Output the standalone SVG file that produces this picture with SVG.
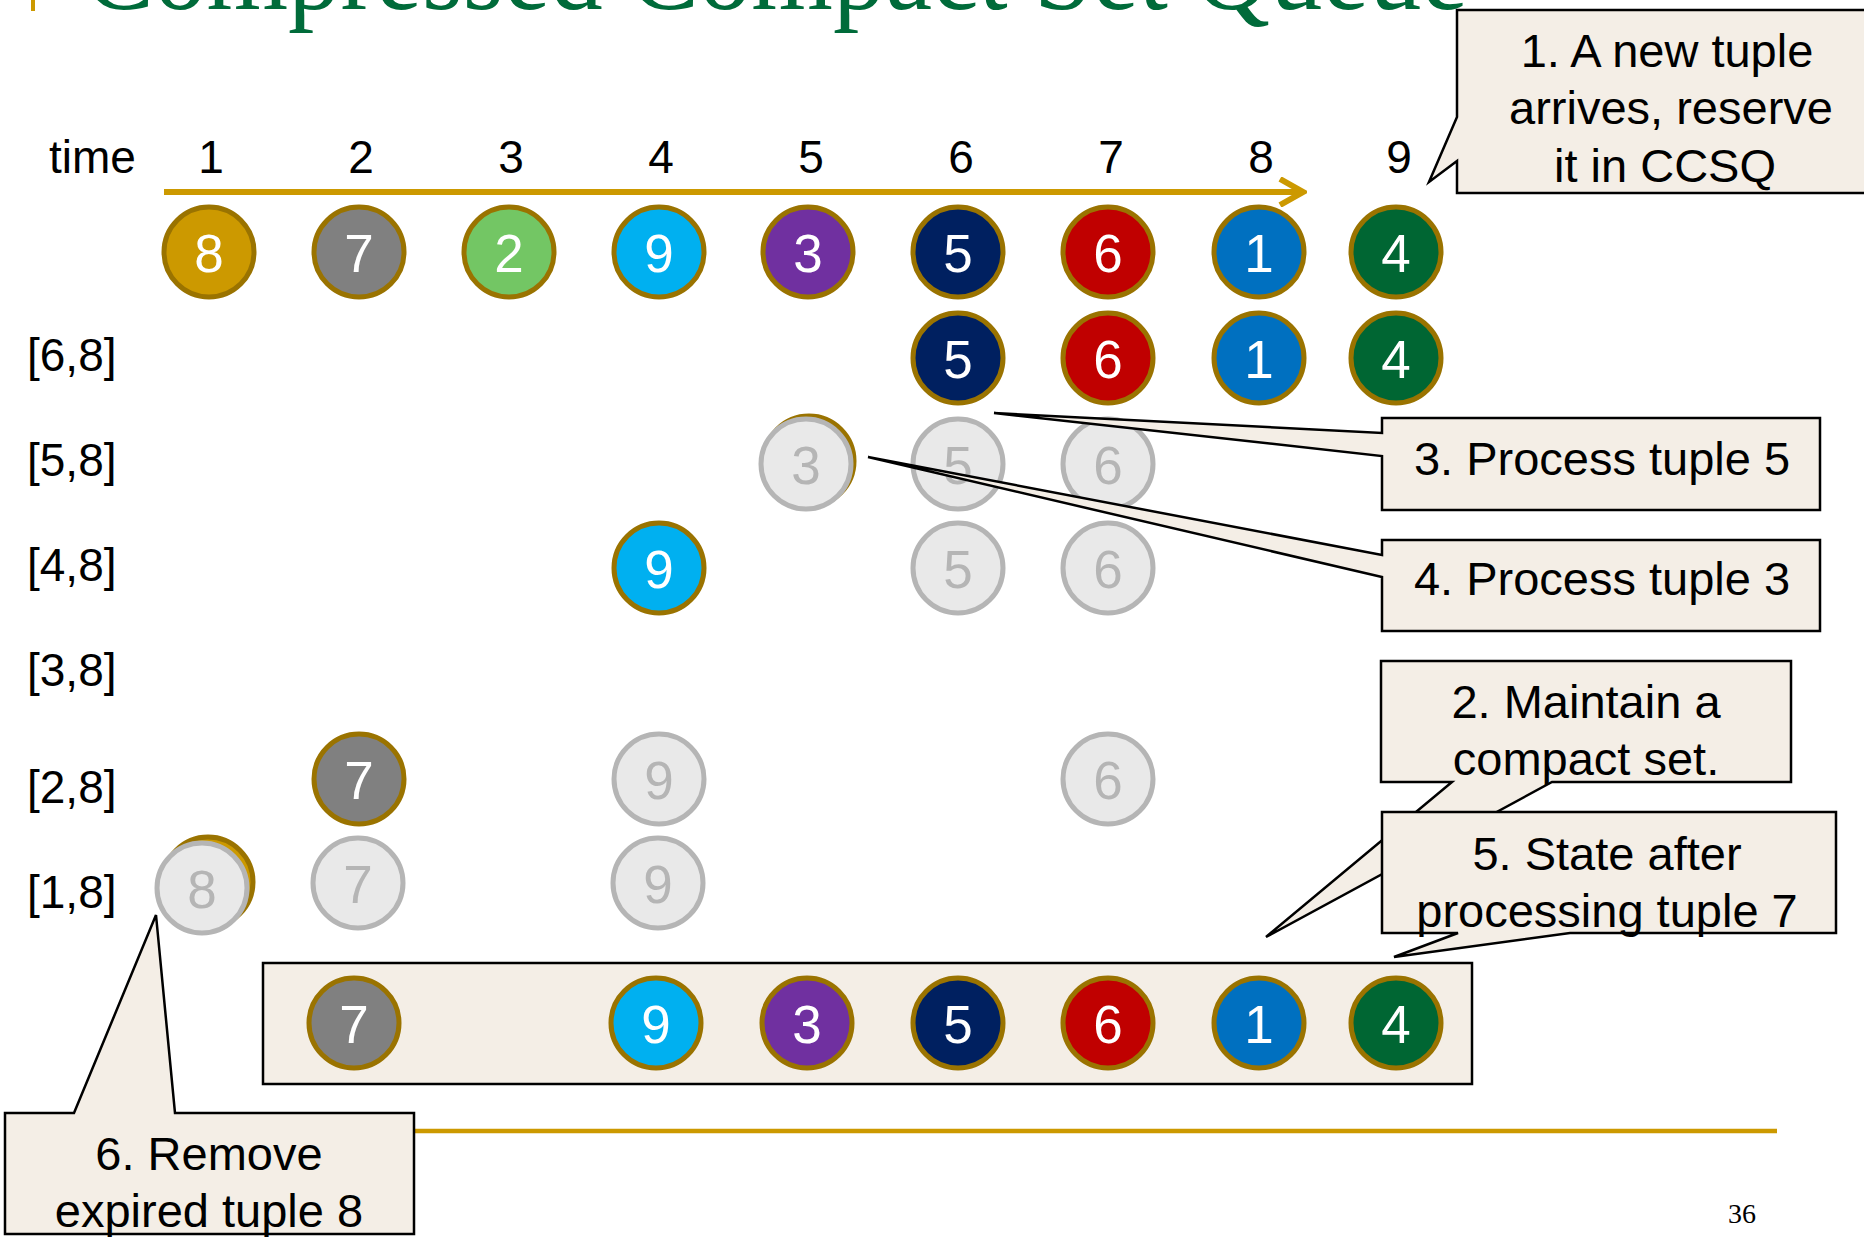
<svg xmlns="http://www.w3.org/2000/svg" width="1864" height="1239" viewBox="0 0 1864 1239">
  <defs>
    <style>
      text { font-family: "Liberation Sans", Arial, sans-serif; }
      .tok { stroke: #9A7300; stroke-width: 5; }
      .old { fill: #E9E9E9; stroke: #B5B5B5; stroke-width: 5; }
      .num { font-size: 53px; fill: #FFFFFF; text-anchor: middle; }
      .oldnum { font-size: 53px; fill: #B5B5B5; text-anchor: middle; }
      .lbl { font-size: 46px; fill: #000000; }
      .tick { font-size: 46px; fill: #000000; text-anchor: middle; }
      .callout { fill: #F4EEE6; stroke: #000000; stroke-width: 2.5; stroke-linejoin: miter; }
      .ct { font-size: 47px; fill: #000000; text-anchor: middle; }
      .gold { stroke: #CC9900; fill: none; }
    </style>
    <marker id="chevron" viewBox="0 0 30 30" refX="26" refY="15" markerWidth="30" markerHeight="30" markerUnits="userSpaceOnUse" orient="auto">
      <polyline points="3,2 26,15 3,28" fill="none" stroke="#CC9900" stroke-width="6"/>
    </marker>
  </defs>

  <!-- slide title (runs off the top edge) and title marker -->
  <rect x="31" y="0" width="4" height="11" fill="#CC9900"/>
  <text x="84" y="9" font-family="Liberation Serif, serif" font-size="112" fill="#006B3A" textLength="1384" lengthAdjust="spacingAndGlyphs" style="font-family:'Liberation Serif',serif">Compressed Compact Set Queue</text>

  <!-- axis labels -->
  <g id="time-axis-labels">
    <text class="lbl" x="49" y="173">time</text>
    <text class="tick" x="211" y="173">1</text>
    <text class="tick" x="361" y="173">2</text>
    <text class="tick" x="511" y="173">3</text>
    <text class="tick" x="661" y="173">4</text>
    <text class="tick" x="811" y="173">5</text>
    <text class="tick" x="961" y="173">6</text>
    <text class="tick" x="1111" y="173">7</text>
    <text class="tick" x="1261" y="173">8</text>
    <text class="tick" x="1399" y="173">9</text>
  </g>

  <g id="range-labels">
    <text class="lbl" x="27" y="371">[6,8]</text>
    <text class="lbl" x="27" y="476">[5,8]</text>
    <text class="lbl" x="27" y="581">[4,8]</text>
    <text class="lbl" x="27" y="686">[3,8]</text>
    <text class="lbl" x="27" y="803">[2,8]</text>
    <text class="lbl" x="27" y="908">[1,8]</text>
  </g>

  <!-- connectors -->
  <g id="connectors">
    <line class="gold" x1="164" y1="192" x2="1303" y2="192" stroke-width="6" marker-end="url(#chevron)"/>
    <line class="gold" x1="200" y1="1131" x2="1777" y2="1131" stroke-width="4.5"/>
  </g>

  <!-- arrival row -->
  <g id="arrivals">
    <g id="a1"><circle class="tok" cx="209" cy="252" r="45" fill="#CC9900"/><text class="num" x="209" y="272">8</text></g>
    <g id="a2"><circle class="tok" cx="359" cy="252" r="45" fill="#808080"/><text class="num" x="359" y="272">7</text></g>
    <g id="a3"><circle class="tok" cx="509" cy="252" r="45" fill="#73C664"/><text class="num" x="509" y="272">2</text></g>
    <g id="a4"><circle class="tok" cx="659" cy="252" r="45" fill="#00B0F0"/><text class="num" x="659" y="272">9</text></g>
    <g id="a5"><circle class="tok" cx="808" cy="252" r="45" fill="#7030A0"/><text class="num" x="808" y="272">3</text></g>
    <g id="a6"><circle class="tok" cx="958" cy="252" r="45" fill="#002060"/><text class="num" x="958" y="272">5</text></g>
    <g id="a7"><circle class="tok" cx="1108" cy="252" r="45" fill="#C00000"/><text class="num" x="1108" y="272">6</text></g>
    <g id="a8"><circle class="tok" cx="1259" cy="252" r="45" fill="#0070C0"/><text class="num" x="1259" y="272">1</text></g>
    <g id="a9"><circle class="tok" cx="1396" cy="252" r="45" fill="#006633"/><text class="num" x="1396" y="272">4</text></g>
  </g>

  <!-- range [6,8] -->
  <g id="r68">
    <g id="r68-5"><circle class="tok" cx="958" cy="358" r="45" fill="#002060"/><text class="num" x="958" y="378">5</text></g>
    <g id="r68-6"><circle class="tok" cx="1108" cy="358" r="45" fill="#C00000"/><text class="num" x="1108" y="378">6</text></g>
    <g id="r68-1"><circle class="tok" cx="1259" cy="358" r="45" fill="#0070C0"/><text class="num" x="1259" y="378">1</text></g>
    <g id="r68-4"><circle class="tok" cx="1396" cy="358" r="45" fill="#006633"/><text class="num" x="1396" y="378">4</text></g>
  </g>

  <!-- range [5,8] -->
  <g id="r58">
    <g id="r58-3"><circle class="tok" cx="809" cy="461" r="45" fill="#7030A0"/><circle class="old" cx="806" cy="464" r="45"/><text class="oldnum" x="806" y="484">3</text></g>
    <g id="r58-5"><circle class="old" cx="958" cy="464" r="45"/><text class="oldnum" x="958" y="484">5</text></g>
    <g id="r58-6"><circle class="old" cx="1108" cy="464" r="45"/><text class="oldnum" x="1108" y="484">6</text></g>
  </g>

  <!-- range [4,8] -->
  <g id="r48">
    <g id="r48-9"><circle class="tok" cx="659" cy="568" r="45" fill="#00B0F0"/><text class="num" x="659" y="588">9</text></g>
    <g id="r48-5"><circle class="old" cx="958" cy="568" r="45"/><text class="oldnum" x="958" y="588">5</text></g>
    <g id="r48-6"><circle class="old" cx="1108" cy="568" r="45"/><text class="oldnum" x="1108" y="588">6</text></g>
  </g>

  <!-- range [2,8] -->
  <g id="r28">
    <g id="r28-7"><circle class="tok" cx="359" cy="779" r="45" fill="#808080"/><text class="num" x="359" y="799">7</text></g>
    <g id="r28-9"><circle class="old" cx="659" cy="779" r="45"/><text class="oldnum" x="659" y="799">9</text></g>
    <g id="r28-6"><circle class="old" cx="1108" cy="779" r="45"/><text class="oldnum" x="1108" y="799">6</text></g>
  </g>

  <!-- range [1,8] -->
  <g id="r18">
    <g id="r18-8"><circle class="tok" cx="208" cy="882" r="45" fill="#CC9900"/><circle class="old" cx="202" cy="888" r="45"/><text class="oldnum" x="202" y="908">8</text></g>
    <g id="r18-7"><circle class="old" cx="358" cy="883" r="45"/><text class="oldnum" x="358" y="903">7</text></g>
    <g id="r18-9"><circle class="old" cx="658" cy="883" r="45"/><text class="oldnum" x="658" y="903">9</text></g>
  </g>

  <!-- resulting compact set -->
  <g id="compact-set">
    <rect class="callout" x="263" y="963" width="1209" height="121"/>
    <g id="s7"><circle class="tok" cx="354" cy="1023" r="45" fill="#808080"/><text class="num" x="354" y="1043">7</text></g>
    <g id="s9"><circle class="tok" cx="656" cy="1023" r="45" fill="#00B0F0"/><text class="num" x="656" y="1043">9</text></g>
    <g id="s3"><circle class="tok" cx="807" cy="1023" r="45" fill="#7030A0"/><text class="num" x="807" y="1043">3</text></g>
    <g id="s5"><circle class="tok" cx="958" cy="1023" r="45" fill="#002060"/><text class="num" x="958" y="1043">5</text></g>
    <g id="s6"><circle class="tok" cx="1108" cy="1023" r="45" fill="#C00000"/><text class="num" x="1108" y="1043">6</text></g>
    <g id="s1"><circle class="tok" cx="1259" cy="1023" r="45" fill="#0070C0"/><text class="num" x="1259" y="1043">1</text></g>
    <g id="s4"><circle class="tok" cx="1396" cy="1023" r="45" fill="#006633"/><text class="num" x="1396" y="1043">4</text></g>
  </g>

  <!-- callouts -->
  <g id="callout-1">
    <path class="callout" d="M1457,10 H1880 V193 H1457 V161 L1429,182 L1457,117 Z"/>
    <text class="ct" x="1667" y="67">1. A new tuple</text>
    <text class="ct" x="1671" y="124">arrives, reserve</text>
    <text class="ct" x="1665" y="182">it in CCSQ</text>
  </g>

  <g id="callout-3">
    <path class="callout" d="M1382,418 H1820 V510 H1382 V456 L994,413 L1382,433 Z"/>
    <text class="ct" x="1602" y="475">3. Process tuple 5</text>
  </g>

  <g id="callout-4">
    <path class="callout" d="M1382,540 H1820 V631 H1382 V577 L868,457 L1382,555 Z"/>
    <text class="ct" x="1602" y="595">4. Process tuple 3</text>
  </g>

  <g id="callout-2">
    <path class="callout" d="M1381,661 H1791 V782 H1552 L1266,937 L1452,782 H1381 Z"/>
    <text class="ct" x="1586" y="718">2. Maintain a</text>
    <text class="ct" x="1586" y="775">compact set.</text>
  </g>

  <g id="callout-5">
    <path class="callout" d="M1382,812 H1836 V933 H1570 L1394,957 L1458,933 H1382 Z"/>
    <text class="ct" x="1607" y="870">5. State after</text>
    <text class="ct" x="1607" y="927">processing tuple 7</text>
  </g>

  <g id="callout-6">
    <path class="callout" d="M5,1113 H74 L156,915 L175,1113 H414 V1234 H5 Z"/>
    <text class="ct" x="209" y="1170">6. Remove</text>
    <text class="ct" x="209" y="1227">expired tuple 8</text>
  </g>

  <text x="1742" y="1223" font-family="Liberation Serif, serif" font-size="28" text-anchor="middle" fill="#000000" style="font-family:'Liberation Serif',serif">36</text>
</svg>
